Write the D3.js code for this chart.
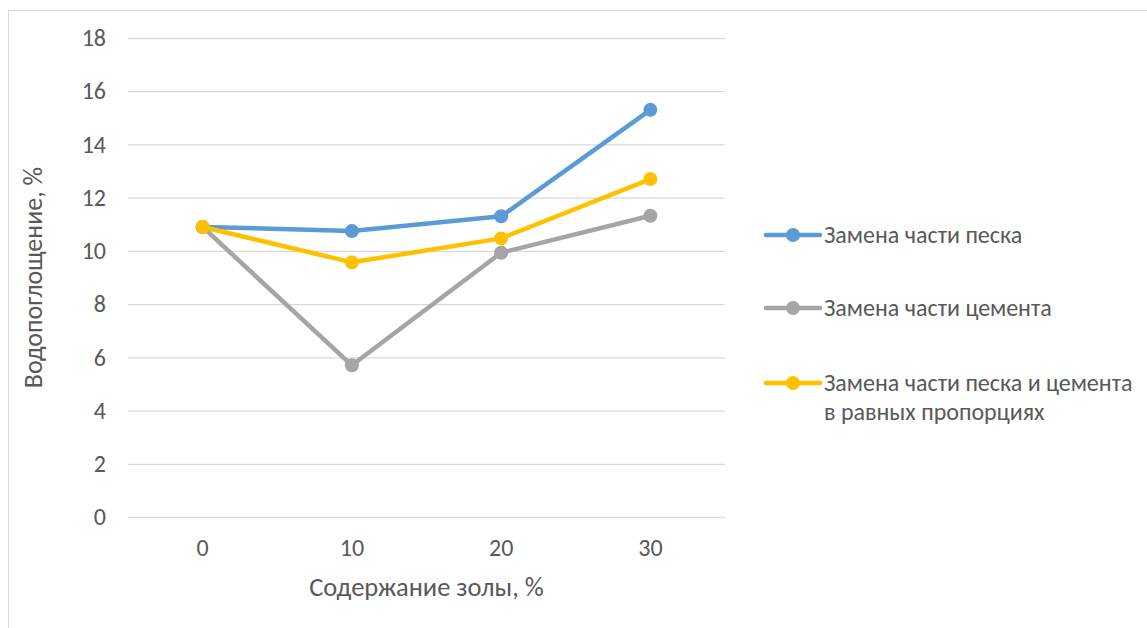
<!DOCTYPE html>
<html>
<head>
<meta charset="utf-8">
<script src="https://cdn.jsdelivr.net/npm/d3@7"></script>
<style>
  html, body { margin: 0; padding: 0; background: #ffffff; }
  svg { display: block; }
  text { font-family: Calibri, Carlito, "Open Sans", sans-serif; fill: #595959; }
</style>
</head>
<body>
<svg id="chart" width="1147" height="628"></svg>
<script>
// Ash content, % (category axis)
const categories = ["0", "10", "20", "30"];

// Water absorption, % for each replacement scheme
const sandValues = [10.9, 10.75, 11.3, 15.3];
const cementValues = [10.9, 5.7, 9.93, 11.32];
const mixedValues = [10.9, 9.57, 10.47, 12.7];

const yTicks = [0, 2, 4, 6, 8, 10, 12, 14, 16, 18];

const seriesNames = [
  ["Замена части песка"],
  ["Замена части цемента"],
  ["Замена части песка и цемента", "в равных пропорциях"]
];
const seriesColors = ["#5b9bd5", "#a5a5a5", "#ffc000"];

const series = [sandValues, cementValues, mixedValues].map((values, i) => ({
  values, name: seriesNames[i], color: seriesColors[i]
}));

const svg = d3.select("#chart");

// Chart area frame
svg.append("rect")
  .attr("x", 8.5).attr("y", 10.5)
  .attr("width", 1300).attr("height", 800)
  .attr("fill", "none")
  .attr("stroke", "#d9d9d9")
  .attr("stroke-width", 1);

const plot = { left: 128, right: 725, top: 38, bottom: 517 };

const x = d3.scaleBand()
  .domain(categories)
  .range([plot.left, plot.right]);

const y = d3.scaleLinear()
  .domain([0, 18])
  .range([plot.bottom, plot.top]);

const tickFontSize = 24;

// Horizontal gridlines and value labels
const yAxis = d3.axisLeft(y)
  .tickValues(yTicks)
  .tickSize(-(plot.right - plot.left))
  .tickPadding(22)
  .tickFormat(d3.format("d"));

const gy = svg.append("g")
  .attr("transform", `translate(${plot.left},0)`)
  .call(yAxis)
  .attr("font-size", tickFontSize);
gy.select(".domain").remove();
gy.selectAll(".tick line").attr("stroke", "#d9d9d9").attr("stroke-width", 1.3);
gy.selectAll(".tick text")
  .style("font-size", tickFontSize + "px")
  .attr("fill", "#595959");

// Category labels
const xAxis = d3.axisBottom(x).tickSize(0).tickPadding(22);
const gx = svg.append("g")
  .attr("transform", `translate(0,${plot.bottom})`)
  .call(xAxis)
  .attr("font-size", tickFontSize);
gx.select(".domain").remove();
gx.selectAll(".tick text")
  .style("font-size", tickFontSize + "px")
  .attr("fill", "#595959");

// Axis titles
svg.append("text")
  .attr("x", (plot.left + plot.right) / 2)
  .attr("y", 596)
  .attr("text-anchor", "middle")
  .style("font-size", "26.5px")
  .text("Содержание золы, %");

svg.append("text")
  .attr("transform", `translate(42,${(plot.top + plot.bottom) / 2}) rotate(-90)`)
  .attr("text-anchor", "middle")
  .style("font-size", "26px")
  .text("Водопоглощение, %");

// Series lines and markers
const line = d3.line()
  .x((d, i) => x(categories[i]) + x.bandwidth() / 2)
  .y(d => y(d));

const gSeries = svg.append("g");
series.forEach(s => {
  gSeries.append("path")
    .datum(s.values)
    .attr("d", line)
    .attr("fill", "none")
    .attr("stroke", s.color)
    .attr("stroke-width", 4.5)
    .attr("stroke-linejoin", "round")
    .attr("stroke-linecap", "round");
  gSeries.selectAll(null)
    .data(s.values)
    .enter().append("circle")
    .attr("cx", (d, i) => x(categories[i]) + x.bandwidth() / 2)
    .attr("cy", d => y(d))
    .attr("r", 7)
    .attr("fill", s.color);
});

// Legend
const legendRows = [235, 308, 383];
const legend = svg.append("g");
series.forEach((s, i) => {
  const g = legend.append("g").attr("transform", `translate(766,${legendRows[i]})`);
  g.append("line")
    .attr("x1", 0).attr("x2", 54)
    .attr("y1", 0).attr("y2", 0)
    .attr("stroke", s.color)
    .attr("stroke-width", 4.5)
    .attr("stroke-linecap", "round");
  g.append("circle")
    .attr("cx", 27).attr("cy", 0).attr("r", 7)
    .attr("fill", s.color);
  s.name.forEach((t, j) => {
    g.append("text")
      .attr("x", 58)
      .attr("y", j * 29)
      .attr("dy", "0.35em")
      .style("font-size", "24px")
      .text(t);
  });
});
</script>
</body>
</html>
